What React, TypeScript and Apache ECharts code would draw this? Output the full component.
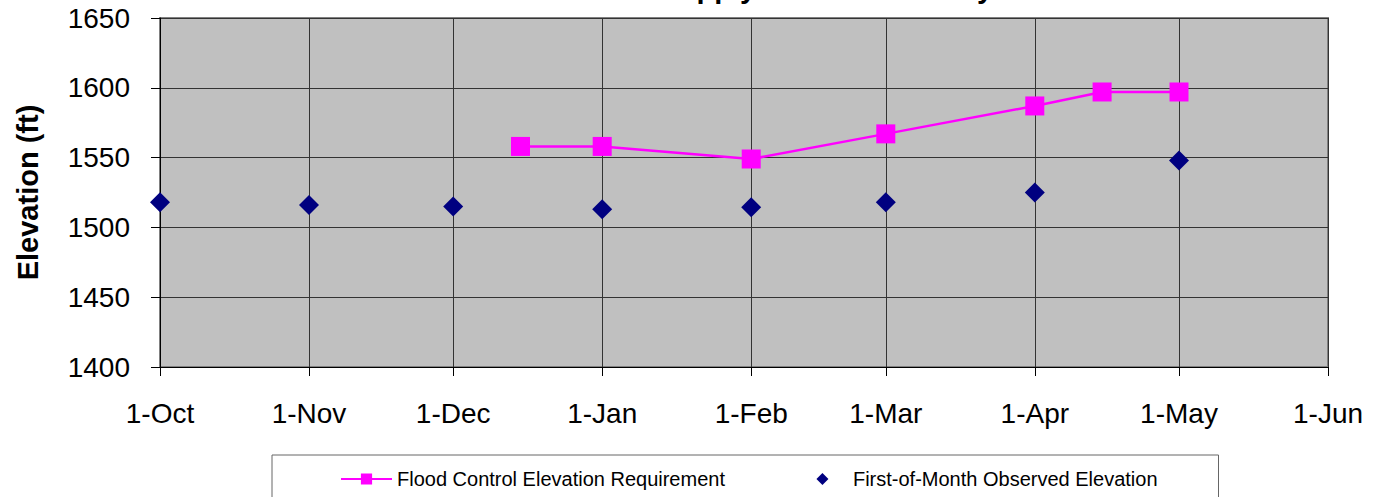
import React, { useEffect, useRef } from "react";
import * as echarts from "echarts";

const MONTHS = ["Jan", "Feb", "Mar", "Apr", "May", "Jun", "Jul", "Aug", "Sep", "Oct", "Nov", "Dec"];

// Flood control requirement dates [year, monthIndex, day] and elevations (ft)
const floodDates: [number, number, number][] = [
  [2000, 11, 15],
  [2001, 0, 1],
  [2001, 1, 1],
  [2001, 2, 1],
  [2001, 3, 1],
  [2001, 3, 15],
  [2001, 4, 1],
];
const floodValues = [1558, 1558, 1549, 1567, 1587, 1597, 1597];

const observedDates: [number, number, number][] = [
  [2000, 9, 1],
  [2000, 10, 1],
  [2000, 11, 1],
  [2001, 0, 1],
  [2001, 1, 1],
  [2001, 2, 1],
  [2001, 3, 1],
  [2001, 4, 1],
];
const observedValues = [1518, 1516, 1515, 1513, 1514.5, 1518, 1525, 1548];

const yTicks = { min: 1400, max: 1650, interval: 50 };
const xRange = { start: [2000, 9, 1] as [number, number, number], end: [2001, 5, 1] as [number, number, number] };

const seriesNames = ["Flood Control Elevation Requirement", "First-of-Month Observed Elevation"];
const titleText = "Water Supply Status Summary";

const ts = (d: [number, number, number]) => new Date(d[0], d[1], d[2]).getTime();

export default function App() {
  const ref = useRef<HTMLDivElement>(null);
  useEffect(() => {
    if (!ref.current) return;
    const chart = echarts.init(ref.current, null, { renderer: "svg" });
    const font = '"Liberation Sans", Arial, sans-serif';
    const DAY = 86400000;
    chart.setOption({
      animation: false,
      backgroundColor: "#ffffff",
      textStyle: { fontFamily: font },
      graphic: [
        {
          type: "text",
          x: 572,
          y: 2,
          style: {
            text: titleText,
            font: `bold 29px ${font}`,
            fill: "#000",
            textAlign: "left",
            textVerticalAlign: "bottom",
          },
        },
      ],
      grid: {
        left: 160,
        right: 59,
        top: 18,
        bottom: 130,
        show: true,
        backgroundColor: "#c0c0c0",
        borderColor: "#808080",
        borderWidth: 2,
      },
      legend: {
        left: 272,
        top: 455,
        orient: "horizontal",
        padding: [14, 61, 14, 68],
        itemGap: 72,
        itemWidth: 51,
        itemHeight: 14,
        borderColor: "#666",
        borderWidth: 1,
        backgroundColor: "#fff",
        textStyle: { fontSize: 20, fontFamily: font, color: "#000" },
        data: [
          { name: seriesNames[0] },
          {
            name: seriesNames[1],
            icon: "path://M0,0M51,14M25.5,1L31.5,7L25.5,13L19.5,7Z",
          },
        ],
      },
      xAxis: {
        type: "time",
        min: ts(xRange.start),
        max: ts(xRange.end),
        splitNumber: 8,
        minInterval: 28 * DAY,
        maxInterval: 31 * DAY,
        axisLine: { show: true, lineStyle: { color: "#000", width: 1 } },
        axisTick: { show: true, length: 9, inside: false, lineStyle: { color: "#000" } },
        splitLine: { show: true, lineStyle: { color: "#333", width: 1 } },
        axisLabel: {
          fontSize: 28,
          color: "#000",
          margin: 32,
          fontFamily: font,
          formatter: (v: number) => {
            const d = new Date(v);
            return d.getDate() + "-" + MONTHS[d.getMonth()];
          },
        },
      },
      yAxis: {
        type: "value",
        min: yTicks.min,
        max: yTicks.max,
        interval: yTicks.interval,
        name: "Elevation (ft)",
        nameLocation: "middle",
        nameGap: 118,
        nameRotate: 90,
        nameTextStyle: { fontSize: 29, fontWeight: "bold", color: "#000", fontFamily: font },
        axisLine: { show: true, lineStyle: { color: "#000", width: 1 } },
        axisTick: { show: true, length: 9, inside: false, lineStyle: { color: "#000" } },
        splitLine: { show: true, lineStyle: { color: "#333", width: 1 } },
        axisLabel: {
          fontSize: 28,
          color: "#000",
          margin: 30,
          fontFamily: font,
          formatter: (v: number) => String(v),
        },
      },
      series: [
        {
          name: seriesNames[0],
          type: "line",
          data: floodDates.map((d, i) => [ts(d), floodValues[i]]),
          symbol: "rect",
          symbolSize: 19,
          lineStyle: { color: "#ff00ff", width: 2.5 },
          itemStyle: { color: "#ff00ff", opacity: 1 },
          z: 3,
        },
        {
          name: seriesNames[1],
          type: "scatter",
          data: observedDates.map((d, i) => [ts(d), observedValues[i]]),
          symbol: "diamond",
          symbolSize: 20,
          itemStyle: { color: "#000080", opacity: 1 },
          z: 4,
        },
      ],
    });
    return () => chart.dispose();
  }, []);
  return (
    <div
      ref={ref}
      style={{ position: "absolute", left: 0, top: 0, width: 1387, height: 497 }}
    />
  );
}
